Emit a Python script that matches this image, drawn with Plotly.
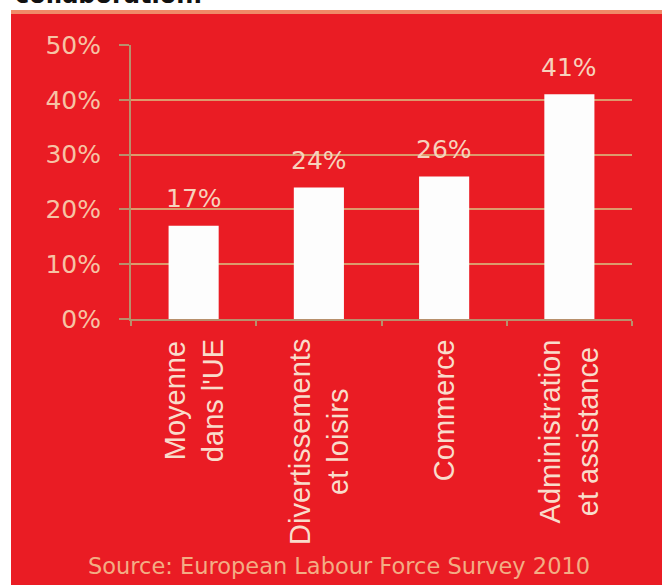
import plotly.graph_objects as go

# Share of workers, by sector
categories = ["Moyenne dans l'UE", "Divertissements et loisirs", "Commerce", "Administration et assistance"]
category_labels = ["Moyenne<br>dans l'UE", "Divertissements<br>et loisirs", "Commerce", "Administration<br>et assistance"]
values = [17, 24, 26, 41]
y_ticks = [0, 10, 20, 30, 40, 50]
y_tick_labels = ["0%", "10%", "20%", "30%", "40%", "50%"]
source_text = "Source: European Labour Force Survey 2010"
header_text = "collaboration."

W, H = 662, 585
L, R, T, B = 131, 30, 45, 266
PW, PH = W - L - R, H - T - B

RED = "#ea1c24"
PEACH = "#f6c3a5"
GRID = "#dc9a6c"
AXIS = "#b8906c"


def px(xp):
    return (xp - L) / PW


def py(yp):
    return (H - B - yp) / PH


fig = go.Figure()
fig.add_trace(go.Bar(
    x=categories, y=values,
    marker=dict(color="#fdfdfd", line=dict(width=0)),
    width=0.4, hoverinfo="skip",
))

shapes = [
    # red panel
    dict(type="rect", xref="paper", yref="paper", x0=px(11), x1=px(W + 5), y0=py(H + 5), y1=py(11),
         fillcolor=RED, line=dict(width=0), layer="below"),
    # light strip along the top edge of the panel
    dict(type="rect", xref="paper", yref="paper", x0=px(11), x1=px(W + 5), y0=py(14), y1=py(10),
         fillcolor="#f08a68", line=dict(width=0), layer="below"),
]

annotations = []
for cat, v in zip(categories, values):
    annotations.append(dict(
        x=cat, y=v, xref="x", yref="y", text=f"{v}%", showarrow=False,
        yanchor="middle", yshift=27,
        font=dict(family="DejaVu Sans", size=25, color="#f7d2bc"),
    ))
for cat, lab in zip(categories, category_labels):
    annotations.append(dict(
        x=cat, y=py(337), xref="x", yref="paper", text=lab, showarrow=False,
        textangle=-90, xanchor="center", yanchor="top", align="center",
        font=dict(family="Liberation Sans", size=29, color="#f9dccb"),
    ))
annotations.append(dict(
    x=px(339), y=py(566), xref="paper", yref="paper", text=source_text, showarrow=False,
    xanchor="center", yanchor="middle",
    font=dict(family="DejaVu Sans", size=22.5, color="#f3ad84"),
))
annotations.append(dict(
    x=px(13), y=py(11), xref="paper", yref="paper", text=f"<b>{header_text}</b>", showarrow=False,
    xanchor="left", yanchor="bottom",
    font=dict(family="DejaVu Sans", size=24, color="#111111"),
))

fig.update_layout(
    width=W, height=H,
    margin=dict(l=L, r=R, t=T, b=B, pad=0),
    paper_bgcolor="white", plot_bgcolor="rgba(0,0,0,0)",
    showlegend=False, bargap=0.6,
    shapes=shapes, annotations=annotations,
    xaxis=dict(
        showticklabels=False, showgrid=False, zeroline=False,
        showline=True, linecolor=AXIS, linewidth=2,
        ticks="outside", tickson="boundaries", ticklen=5, tickcolor=AXIS, tickwidth=2,
    ),
    yaxis=dict(
        range=[0, 50], tickvals=y_ticks, ticktext=y_tick_labels,
        showgrid=True, gridcolor=GRID, gridwidth=2, zeroline=False,
        showline=True, linecolor=AXIS, linewidth=2,
        ticks="outside", ticklen=10, tickcolor=AXIS, tickwidth=2,
        ticklabelstandoff=13,
        tickfont=dict(family="DejaVu Sans", size=25, color=PEACH),
    ),
)

fig.write_html("out.html")
